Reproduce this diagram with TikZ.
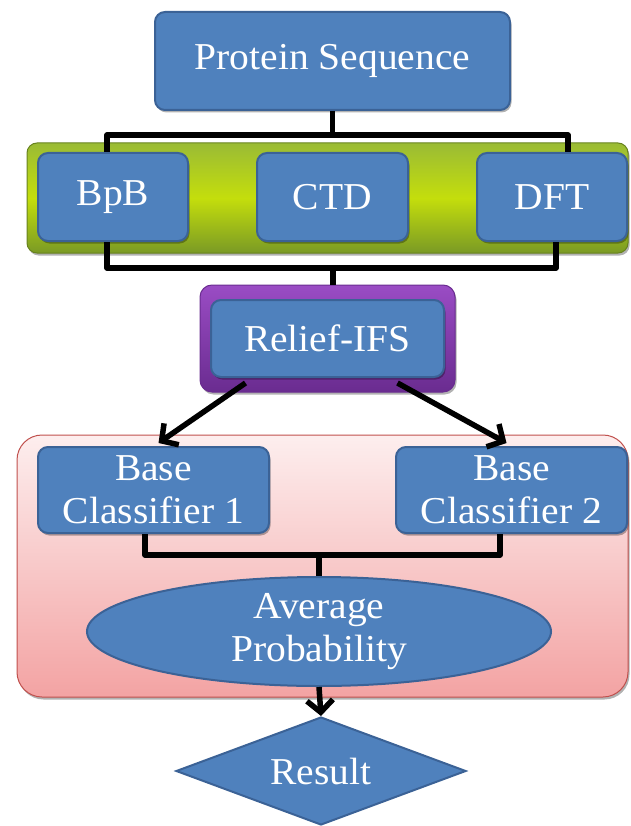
\documentclass[tikz,border=0pt]{standalone}
\usepackage{fontspec}
\setmainfont[FakeStretch=1.04]{Liberation Serif}
\usetikzlibrary{shapes.geometric,arrows.meta,shadows}
\definecolor{boxblue}{HTML}{4F81BD}
\definecolor{boxedge}{HTML}{3B6296}
\definecolor{gtop}{HTML}{9ABB35}
\definecolor{gmid}{HTML}{C4DE0C}
\definecolor{gbot}{HTML}{7A9A25}
\definecolor{ptop}{HTML}{9A4CC4}
\definecolor{pbot}{HTML}{6A2C90}
\definecolor{pinktop}{HTML}{FDEEEE}
\definecolor{pinkbot}{HTML}{F3A3A3}
\definecolor{pinkedge}{HTML}{C0504D}
\tikzset{
  shadowed/.style={drop shadow={shadow xshift=1.5pt, shadow yshift=-2.5pt, opacity=0.3, fill=black}},
  bluebox/.style={rectangle, rounded corners=10pt, fill=boxblue, draw=boxedge, line width=2pt,
    text=white, align=center, inner sep=0pt, font=\fontsize{38}{43}\selectfont, shadowed},
  bluefree/.style={fill=boxblue, draw=boxedge, line width=2pt,
    text=white, align=center, inner sep=0pt, font=\fontsize{38}{43}\selectfont},
  bandbox/.style={rectangle, rounded corners=10pt, top color=gtop, bottom color=gbot, middle color=gmid,
    draw=gbot!85!black, line width=1pt, shadowed},
  pinkbox/.style={rectangle, rounded corners=25pt, top color=pinktop, bottom color=pinkbot,
    draw=pinkedge, line width=1pt, shadowed},
  purplebox/.style={rectangle, rounded corners=12pt, top color=ptop, bottom color=pbot,
    draw=pbot, line width=1pt, shadowed},
  conn/.style={line width=5.5pt, draw=black, line join=round},
  arr/.style={conn, -{Straight Barb[length=12pt,width=26pt]}},
}
\begin{document}
\begin{tikzpicture}[x=1pt,y=-1pt]
\useasboundingbox (0,0) rectangle (630,826);
% backgrounds
\node[bandbox, minimum width=601pt, minimum height=110pt] (band) at (327.5,198) {};
\node[pinkbox, minimum width=611pt, minimum height=262pt] (pinkbg) at (322.5,566) {};
\node[purplebox, minimum width=255pt, minimum height=107pt] (rout) at (327.5,338.5) {};
% nodes
\node[bluebox, minimum width=355pt, minimum height=98pt] (ps) at (332.5,61) {Protein Sequence};
\node[bluebox, minimum width=150pt, minimum height=88pt] (bpb) at (113,197) {BpB};
\node[bluebox, minimum width=151pt, minimum height=88pt] (ctd) at (332.5,197) {CTD};
\node[bluebox, minimum width=150pt, minimum height=88pt] (dft) at (552,197) {DFT};
\node[bluebox, minimum width=233pt, minimum height=77pt] (rin) at (327.5,338.5) {Relief-IFS};
\node[bluebox, minimum width=231pt, minimum height=86pt] (bc1) at (153.5,490) {Base\\Classifier 1};
\node[bluebox, minimum width=231pt, minimum height=86pt] (bc2) at (511.5,490) {Base\\Classifier 2};
\node[bluefree, ellipse, minimum width=464pt, minimum height=109pt] (avg) at (319,631.5) {Average\\Probability};
\node[bluefree, diamond, aspect=2.7, minimum width=290pt, minimum height=108pt] (res) at (321,771) {Result};
% connectors
\coordinate (tb) at (334,135);
\draw[conn] ([xshift=-6pt]bpb.north) |- (tb) -| ([xshift=16pt]dft.north);
\draw[conn] (ps.south) -- (ps.south |- tb);
\coordinate (bb) at (333,268);
\draw[conn] ([xshift=-6pt]bpb.south) |- (bb) -| ([xshift=4pt]dft.south);
\draw[conn] (bb) -- (bb |- rout.north);
\draw[arr] ([xshift=-82pt,yshift=-5pt]rin.south) -- ([xshift=5pt,yshift=3pt]bc1.north);
\draw[arr] ([xshift=70pt,yshift=-5pt]rin.south) -- ([xshift=-5pt,yshift=3pt]bc2.north);
\coordinate (cb) at (319,555);
\draw[conn] ([xshift=-8.5pt]bc1.south) |- (cb) -| ([xshift=-11.5pt]bc2.south);
\draw[conn] (cb) -- (avg.north);
\draw[arr] (avg.south) -- (res.north);
\end{tikzpicture}
\end{document}
